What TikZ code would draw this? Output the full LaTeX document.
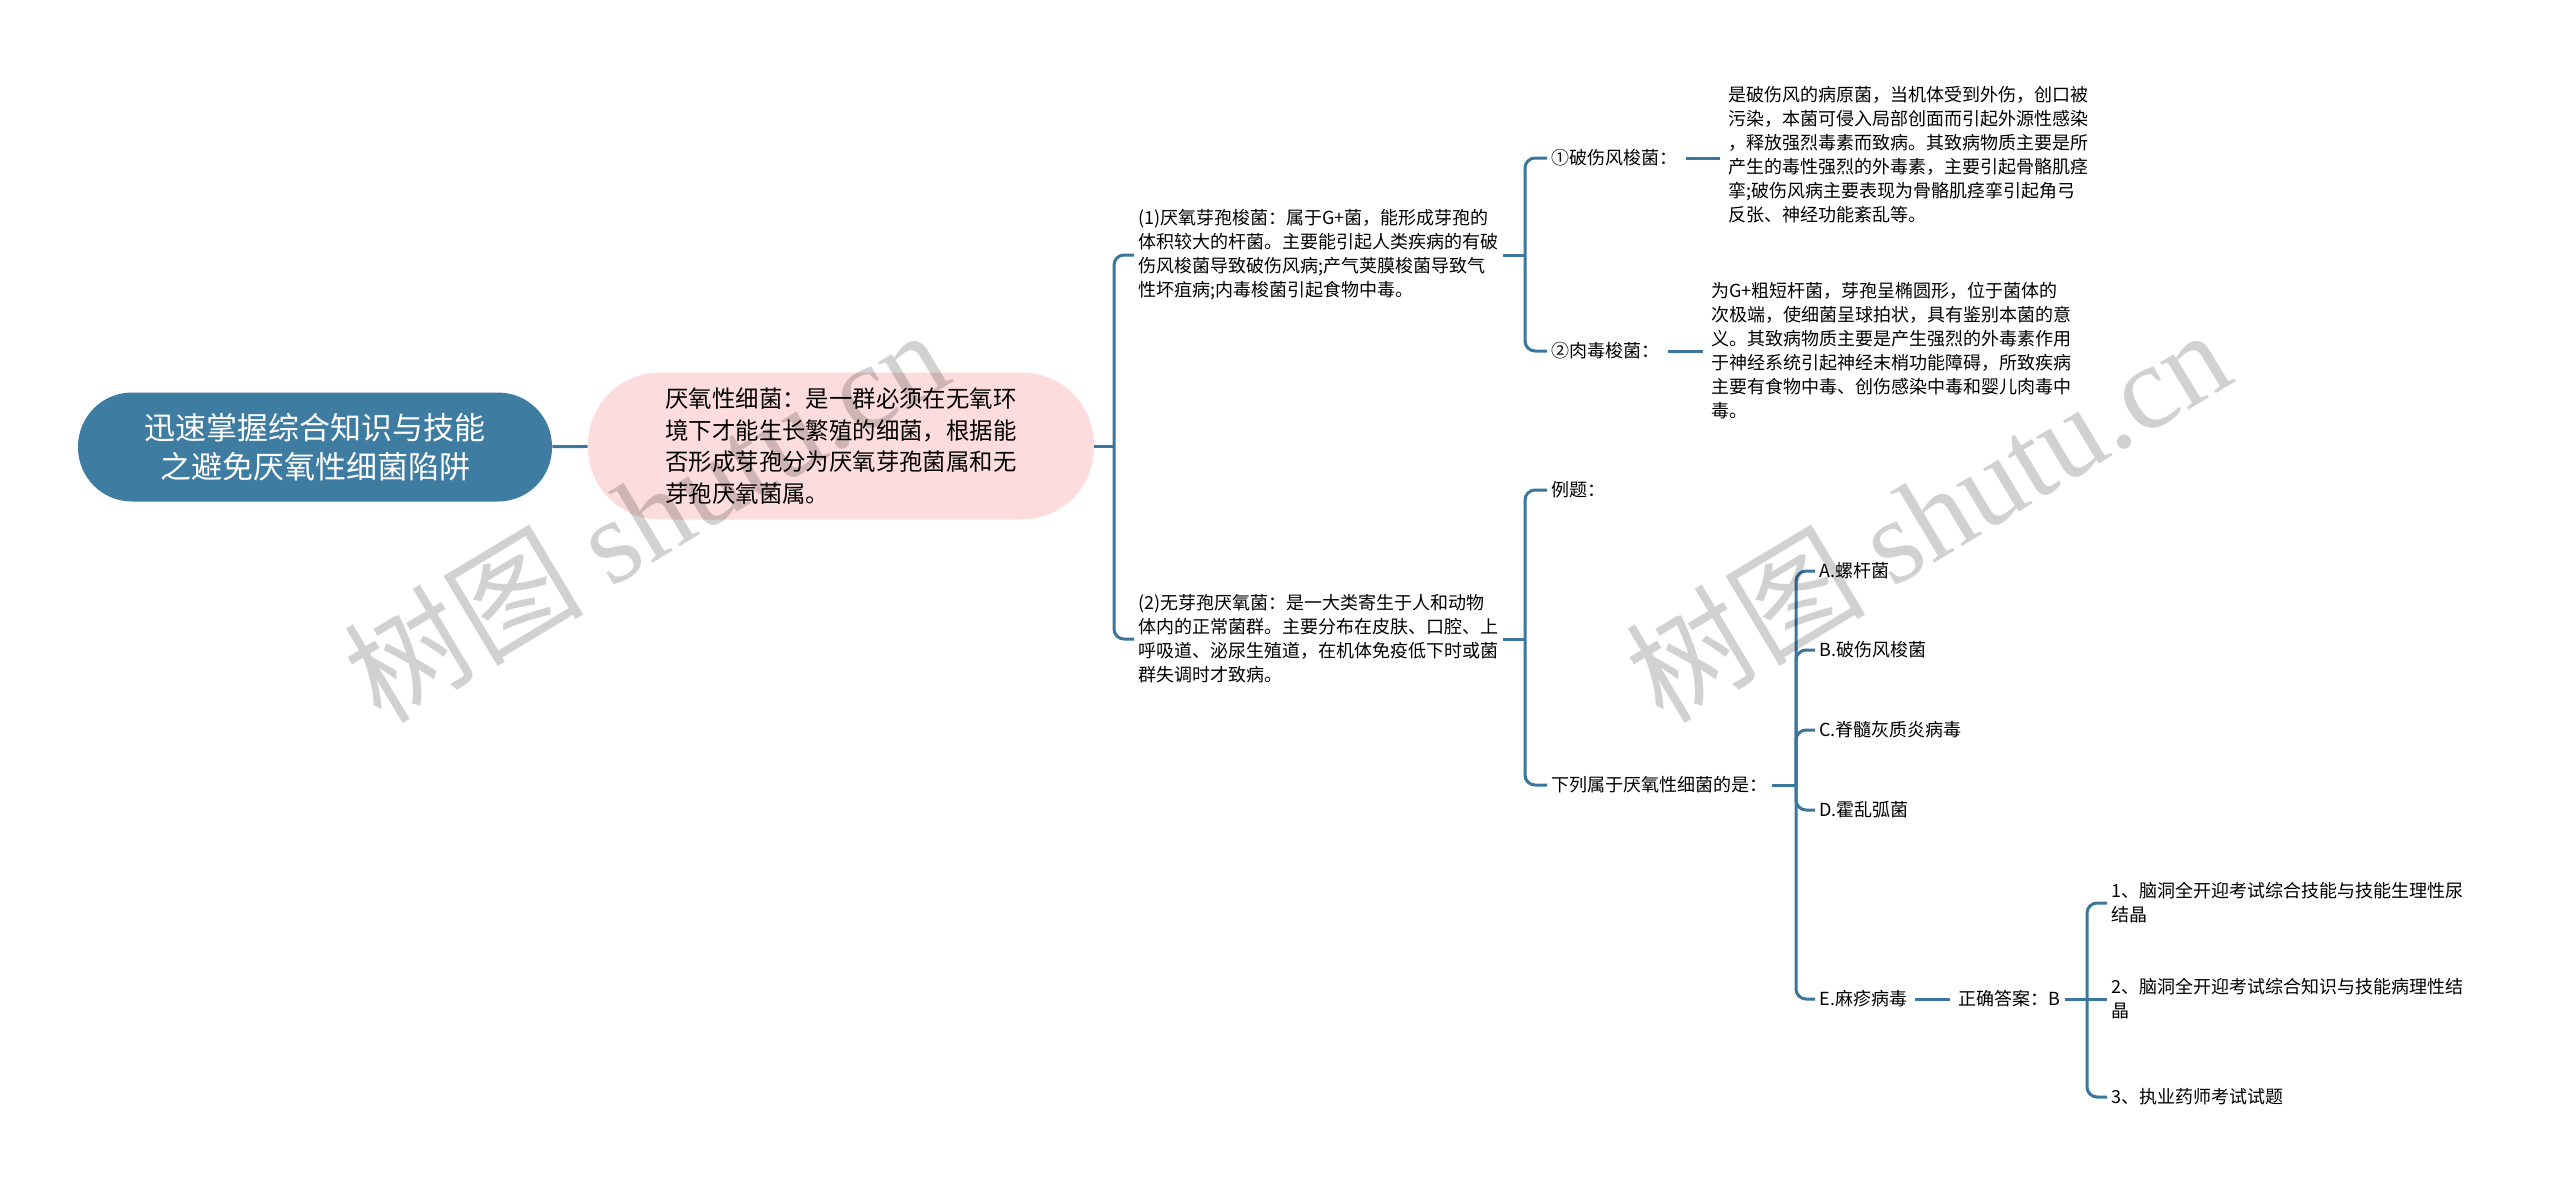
\documentclass[tikz,border=0pt]{standalone}
\usepackage{fontspec}
\setmainfont{Noto Sans CJK SC}
\newfontfamily\markfont{Liberation Serif}

\begin{document}
\begin{tikzpicture}[x=0.5pt, y=-0.5pt,
    link/.style={draw=line-blue, line width=1.5pt},
    bracket/.style={link, rounded corners=5pt},
    shortlink/.style={link, shorten <=2pt, shorten >=2pt},
    leaf/.style={anchor=west, inner xsep=2pt, inner ysep=1pt,
        align=left, font=\fontsize{9}{12}\selectfont},
    rootbox/.style={fill=root-blue, text=white, rounded corners=27pt,
        minimum width=237pt, minimum height=54.5pt, align=center,
        font=\fontsize{15.5}{19.5}\selectfont},
    topicbox/.style={fill=topic-pink, rounded corners=36pt,
        minimum width=253pt, minimum height=73.5pt, align=left,
        font=\fontsize{11.7}{15.8}\selectfont},
    watermark/.style={rotate=31, text=black, text opacity=0.18,
        font=\fontsize{60}{60}\selectfont}
  ]
    % Definitions
    \definecolor{root-blue}{RGB}{62, 124, 162}
    \definecolor{line-blue}{RGB}{58, 118, 157}
    \definecolor{topic-pink}{RGB}{252, 220, 220}

    \useasboundingbox (0,0) rectangle (2560,1196);

    % Centre
    \node[rootbox] (root) at (315,447)
        {迅速掌握综合知识与技能\\之避免厌氧性细菌陷阱};
    \node[topicbox] (topic) at (841,446)
        {厌氧性细菌：是一群必须在无氧环\\境下才能生长繁殖的细菌，根据能\\否形成芽孢分为厌氧芽孢菌属和无\\芽孢厌氧菌属。};

    % Level 2
    \node[leaf] (spore) at (1134,255)
        {(1)厌氧芽孢梭菌：属于G+菌，能形成芽孢的\\体积较大的杆菌。主要能引起人类疾病的有破\\伤风梭菌导致破伤风病;产气荚膜梭菌导致气\\性坏疽病;内毒梭菌引起食物中毒。};
    \node[leaf] (nospore) at (1134,639)
        {(2)无芽孢厌氧菌：是一大类寄生于人和动物\\体内的正常菌群。主要分布在皮肤、口腔、上\\呼吸道、泌尿生殖道，在机体免疫低下时或菌\\群失调时才致病。};

    % Level 3
    \node[leaf] (tetani) at (1547,158) {①破伤风梭菌：};
    \node[leaf] (tetani-text) at (1724,155)
        {是破伤风的病原菌，当机体受到外伤，创口被\\污染，本菌可侵入局部创面而引起外源性感染\\，释放强烈毒素而致病。其致病物质主要是所\\产生的毒性强烈的外毒素，主要引起骨骼肌痉\\挛;破伤风病主要表现为骨骼肌痉挛引起角弓\\反张、神经功能紊乱等。};
    \node[leaf] (botul) at (1547,351) {②肉毒梭菌：};
    \node[leaf] (botul-text) at (1707,351)
        {为G+粗短杆菌，芽孢呈椭圆形，位于菌体的\\次极端，使细菌呈球拍状，具有鉴别本菌的意\\义。其致病物质主要是产生强烈的外毒素作用\\于神经系统引起神经末梢功能障碍，所致疾病\\主要有食物中毒、创伤感染中毒和婴儿肉毒中\\毒。};
    \node[leaf] (example) at (1547,490) {例题：};
    \node[leaf] (question) at (1547,785) {下列属于厌氧性细菌的是：};

    % Choices
    \node[leaf] (opt-a) at (1815,571) {A.螺杆菌};
    \node[leaf] (opt-b) at (1815,650) {B.破伤风梭菌};
    \node[leaf] (opt-c) at (1815,730) {C.脊髓灰质炎病毒};
    \node[leaf] (opt-d) at (1815,810) {D.霍乱弧菌};
    \node[leaf] (opt-e) at (1815,999) {E.麻疹病毒};
    \node[leaf] (answer) at (1954,999) {正确答案：B};

    % Related
    \node[leaf] (rel-1) at (2107,903)
        {1、脑洞全开迎考试综合技能与技能生理性尿\\结晶};
    \node[leaf] (rel-2) at (2107,999)
        {2、脑洞全开迎考试综合知识与技能病理性结\\晶};
    \node[leaf] (rel-3) at (2107,1097) {3、执业药师考试试题};

    % Junctions
    \coordinate (j-topic) at (1114,446);
    \coordinate (j-spore) at (1525,255);
    \coordinate (j-nospore) at (1525,639);
    \coordinate (j-question) at (1796,785);
    \coordinate (j-answer) at (2087,999);

    % Connectors
    \draw[link] (root) -- (topic);
    \draw[link] (topic.east) -- (j-topic);
    \draw[bracket] (j-topic) |- (spore.west);
    \draw[bracket] (j-topic) |- (nospore.west);

    \draw[link] (spore.east) -- (j-spore);
    \draw[bracket] (j-spore) |- (tetani.west);
    \draw[bracket] (j-spore) |- (botul.west);
    \draw[shortlink] (tetani.east) -- (tetani.east -| tetani-text.west);
    \draw[shortlink] (botul) -- (botul-text);

    \draw[link] (nospore.east) -- (j-nospore);
    \draw[bracket] (j-nospore) |- (example.west);
    \draw[bracket] (j-nospore) |- (question.west);

    \draw[link] (question.east) -- (j-question);
    \foreach \opt in {opt-a, opt-b, opt-c, opt-d, opt-e}
        \draw[bracket] (j-question) |- (\opt.west);
    \draw[shortlink] (opt-e) -- (answer);

    \draw[link] (answer.east) -- (j-answer);
    \draw[bracket] (j-answer) |- (rel-1.west);
    \draw[link] (j-answer) -- (rel-2.west);
    \draw[bracket] (j-answer) |- (rel-3.west);

    % Watermarks
    \node[watermark] (mark-left) at (645,514) {树图 {\markfont shutu.cn}};
    \node[watermark] (mark-right) at (1927,514) {树图 {\markfont shutu.cn}};
\end{tikzpicture}
\end{document}
